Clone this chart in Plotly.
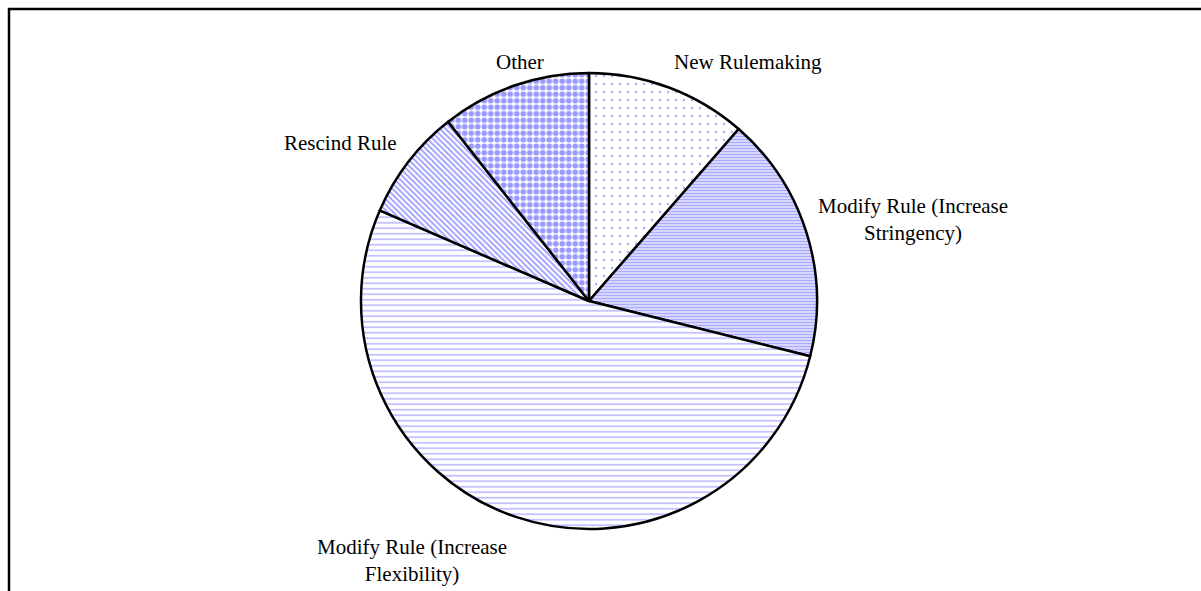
import plotly.graph_objects as go

W, H = 1201, 591

# Data
categories = ["New Rulemaking", "Modify Rule (Increase Stringency)",
              "Modify Rule (Increase Flexibility)", "Rescind Rule", "Other"]
values = [11.4, 17.5, 52.6, 7.9, 10.6]
label_text = ["New Rulemaking", "Modify Rule (Increase<br>Stringency)",
              "Modify Rule (Increase<br>Flexibility)", "Rescind Rule", "Other"]

# Styling
shapes_pat = [".", "-", "-", "\\", "."]
pat_size = [8, 3, 5.5, 4, 6.5]
pat_solid = [0.07, 0.65, 0.28, 0.45, 0.6]
pat_fg = ["#aaaaff", "#aaaaff", "#b8b8ff", "#9999ff", "#9999ff"]
label_px = [(748, 62), (913, 219), (412, 560), (340, 143), (520, 62)]

cx, cy, r = 589, 301, 228

fig = go.Figure(go.Pie(
    labels=categories,
    values=values,
    sort=False,
    direction="clockwise",
    rotation=0,
    textinfo="none",
    hoverinfo="label+percent",
    showlegend=False,
    marker=dict(
        colors=["white"] * 5,
        line=dict(color="black", width=2.5),
        pattern=dict(shape=shapes_pat, fgcolor=pat_fg, bgcolor="white",
                     size=pat_size, solidity=pat_solid, fgopacity=1,
                     fillmode="replace"),
    ),
    domain=dict(x=[(cx - r) / W, (cx + r) / W], y=[1 - (cy + r) / H, 1 - (cy - r) / H]),
))

annotations = []
for txt, (px, py) in zip(label_text, label_px):
    annotations.append(dict(
        x=px / W, y=1 - py / H, xref="paper", yref="paper",
        text=txt, showarrow=False, xanchor="center", yanchor="middle",
        align="center",
        font=dict(family="Liberation Serif, Times New Roman, serif", size=21, color="black"),
    ))

fig.update_layout(
    width=W, height=H,
    margin=dict(l=0, r=0, t=0, b=0),
    paper_bgcolor="white",
    plot_bgcolor="white",
    annotations=annotations,
    shapes=[dict(type="rect", xref="paper", yref="paper",
                 x0=9 / W, x1=1.02, y0=-0.02, y1=1 - 9 / H,
                 line=dict(color="black", width=2.5))],
)

fig.write_html("out.html")
